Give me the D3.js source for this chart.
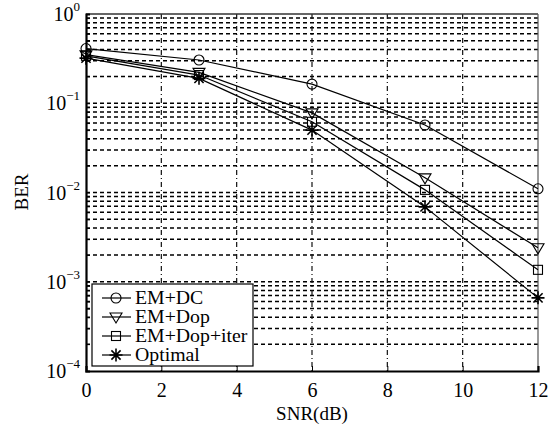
<!DOCTYPE html>
<html>
<head>
<meta charset="utf-8">
<script src="https://cdn.jsdelivr.net/npm/d3@7"></script>
<style>
  body { margin: 0; background: #fff; }
  svg text { font-family: "Liberation Serif", "Times New Roman", "DejaVu Serif", serif; fill: #000; }
</style>
</head>
<body>
<div id="chart"></div>
<script>
var snr = [0, 3, 6, 9, 12];
var seriesNames = ['EM+DC', 'EM+Dop', 'EM+Dop+iter', 'Optimal'];
var emDC = [0.41, 0.305, 0.164, 0.057, 0.011];
var emDop = [0.35, 0.222, 0.078, 0.0146, 0.0024];
var emDopIter = [0.34, 0.207, 0.062, 0.0107, 0.00136];
var optimal = [0.32, 0.19, 0.05, 0.0069, 0.00066];
var xTicks = [0, 2, 4, 6, 8, 10, 12];
var yExps = [0, -1, -2, -3, -4];
var markers = ['circle', 'triangle', 'square', 'star'];

var W = 559, H = 427;
var pLeft = 86, pTop = 14, pRight = 538, pBottom = 371;
var serif = '"Liberation Serif", "Times New Roman", serif';

var svg = d3.select('#chart').append('svg')
  .attr('width', W).attr('height', H);

var x = d3.scaleLinear().domain([0, 12]).range([pLeft, pRight]);
var y = d3.scaleLog().domain([1e-4, 1]).range([pBottom, pTop]);

// horizontal grid at every minor value
var gridVals = [];
for (var e = -4; e < 0; e++) {
  for (var m = 1; m < 10; m++) gridVals.push(m * Math.pow(10, e));
}
svg.append('g').selectAll('line')
  .data(gridVals.filter(function(v) { return v > 1e-4; }))
  .enter().append('line')
  .attr('x1', pLeft).attr('x2', pRight)
  .attr('y1', function(d) { return y(d); })
  .attr('y2', function(d) { return y(d); })
  .attr('stroke', '#000').attr('stroke-width', 1.5)
  .attr('stroke-dasharray', '4,3');

// vertical grid
svg.append('g').selectAll('line')
  .data(xTicks.slice(1, -1))
  .enter().append('line')
  .attr('x1', function(d) { return x(d); })
  .attr('x2', function(d) { return x(d); })
  .attr('y1', pTop).attr('y2', pBottom)
  .attr('stroke', '#111').attr('stroke-width', 1.2)
  .attr('stroke-dasharray', '5,3,1,3');

// frame
svg.append('line').attr('x1', pLeft).attr('x2', pRight).attr('y1', pTop).attr('y2', pTop)
  .attr('stroke', '#333').attr('stroke-width', 1.5);
svg.append('line').attr('x1', pRight).attr('x2', pRight).attr('y1', pTop).attr('y2', pBottom)
  .attr('stroke', '#555').attr('stroke-width', 1.2);

var xAxis = svg.append('g')
  .attr('transform', 'translate(0,' + pBottom + ')')
  .call(d3.axisBottom(x).tickValues(xTicks).tickSize(-5).tickPadding(12).tickFormat(d3.format('d')));
xAxis.attr('font-family', serif);
xAxis.select('.domain').attr('stroke', '#000').attr('stroke-width', 2.2);
xAxis.selectAll('text').attr('font-size', 20).attr('font-family', serif);

var yAxis = svg.append('g')
  .attr('transform', 'translate(' + pLeft + ',0)')
  .call(d3.axisLeft(y).tickValues(gridVals.concat([1])).tickSize(-4).tickFormat(''));
yAxis.select('.domain').attr('stroke', '#000').attr('stroke-width', 2.2);

// y labels 10^n
var yl = svg.append('g').selectAll('text')
  .data(yExps).enter().append('text')
  .attr('x', pLeft - 6)
  .attr('y', function(d) { return y(Math.pow(10, d)) + 7; })
  .attr('text-anchor', 'end')
  .attr('font-family', serif)
  .attr('font-size', 20);
yl.append('tspan').text('10');
yl.append('tspan').attr('dy', -10).attr('font-size', 13)
  .text(function(d) { return d === 0 ? '0' : '\u2212' + (-d); });

svg.append('text')
  .attr('transform', 'translate(28,192) rotate(-90)')
  .attr('text-anchor', 'middle')
  .attr('font-family', serif)
  .attr('font-size', 19)
  .text('BER');

svg.append('text')
  .attr('x', (pLeft + pRight) / 2).attr('y', 420)
  .attr('text-anchor', 'middle')
  .attr('font-family', serif)
  .attr('font-size', 19)
  .text('SNR(dB)');

function drawMarker(g, type, cx, cy) {
  if (type === 'circle') {
    g.append('circle').attr('cx', cx).attr('cy', cy).attr('r', 5)
      .attr('fill', 'none').attr('stroke', '#000').attr('stroke-width', 1.1);
  } else if (type === 'triangle') {
    g.append('path')
      .attr('d', 'M' + (cx - 6) + ',' + (cy - 4) + 'L' + (cx + 6) + ',' + (cy - 4) + 'L' + cx + ',' + (cy + 6) + 'Z')
      .attr('fill', 'none').attr('stroke', '#000').attr('stroke-width', 1.1);
  } else if (type === 'square') {
    g.append('rect').attr('x', cx - 4.5).attr('y', cy - 4.5).attr('width', 9).attr('height', 9)
      .attr('fill', 'none').attr('stroke', '#000').attr('stroke-width', 1.1);
  } else {
    var r = 6.5;
    var p = '';
    for (var i = 0; i < 4; i++) {
      var a = i * Math.PI / 4;
      p += 'M' + (cx - r * Math.cos(a)) + ',' + (cy - r * Math.sin(a)) +
           'L' + (cx + r * Math.cos(a)) + ',' + (cy + r * Math.sin(a));
    }
    g.append('path').attr('d', p).attr('stroke', '#000').attr('stroke-width', 1.6);
  }
}

var allSeries = [emDC, emDop, emDopIter, optimal];
var line = d3.line()
  .x(function(d, i) { return x(snr[i]); })
  .y(function(d) { return y(d); });

allSeries.forEach(function(s, k) {
  var g = svg.append('g');
  g.append('path').attr('d', line(s))
    .attr('fill', 'none').attr('stroke', '#000').attr('stroke-width', 1.2);
  s.forEach(function(v, i) { drawMarker(g, markers[k], x(snr[i]), y(v)); });
});

// legend
var lg = svg.append('g');
lg.append('rect').attr('x', 92).attr('y', 284).attr('width', 161).attr('height', 82)
  .attr('fill', '#fff').attr('stroke', '#000').attr('stroke-width', 1.2);
seriesNames.forEach(function(name, k) {
  var cy = 298 + k * 19;
  lg.append('line').attr('x1', 102).attr('x2', 131).attr('y1', cy).attr('y2', cy)
    .attr('stroke', '#000').attr('stroke-width', 1.2);
  drawMarker(lg, markers[k], 116, cy);
  lg.append('text').attr('transform', 'translate(135,' + (cy + 6) + ') scale(1.1,1)')
    .attr('font-family', serif)
    .attr('font-size', 18).text(name);
});
</script>
</body>
</html>
